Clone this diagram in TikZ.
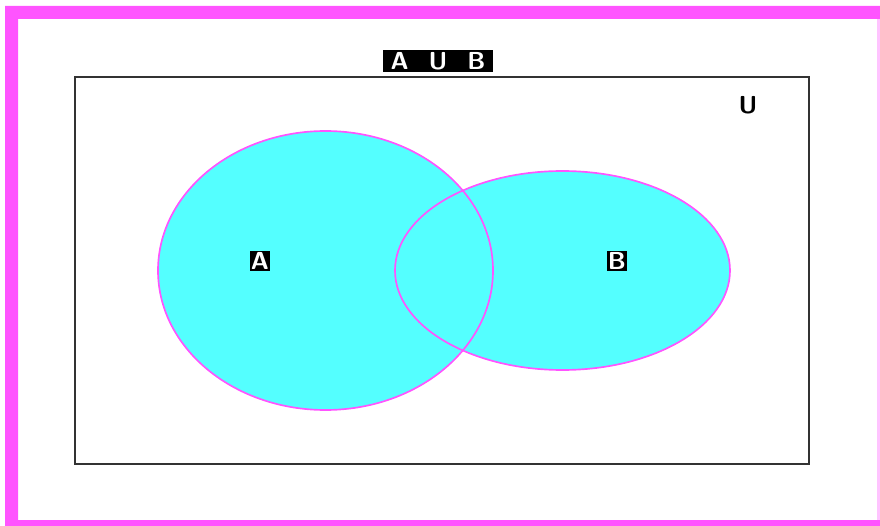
\documentclass[tikz,border=0pt]{standalone}
\usepackage{tikz}
\usetikzlibrary{calc}
\definecolor{cyanfill}{rgb}{0.33, 1.0, 1.0}
\definecolor{magentaline}{rgb}{1.0, 0.33, 1.0}
\tikzset{
	setlabel/.style={fill=black,text=white,font=\sffamily\bfseries\fontsize{21}{21}\selectfont,inner sep=1.2pt},
	setline/.style={magentaline,line width=0.5mm}
}
\begin{document}
\begin{tikzpicture}[x=0.3mm,y=-0.3mm]
			\useasboundingbox (0,0) rectangle (880,526);
			\fill[magentaline,even odd rule] (5,6) rectangle (880,526) (18,19) rectangle (877,520);
			\fill[magentaline!35] (877,19) rectangle (880,520);
			
			\coordinate (cA) at (325.5,270.5);
			\coordinate (cB) at (562.5,270.5);
			\draw[line width=0.7mm,black!80] (75,77) rectangle (809,464);
			
			\fill[cyanfill] (cA) ellipse [x radius=167.5, y radius=139.5];
			\fill[cyanfill] (cB) ellipse [x radius=167.5, y radius=99.5];
			\draw[setline] (cA) ellipse [x radius=167.5, y radius=139.5];
			\draw[setline] (cB) ellipse [x radius=167.5, y radius=99.5];
			
			\node[setlabel,minimum width=33mm,minimum height=6.5mm] (title) at (438,61) {A\hspace{6mm}U\hspace{6mm}B};
			\node[font=\sffamily\bfseries\fontsize{21}{21}\selectfont] (univ) at (748,105) {U};
			\node[setlabel] (labA) at (260,261) {A};
			\node[setlabel] (labB) at (617,261) {B};
			\end{tikzpicture}
\end{document}
